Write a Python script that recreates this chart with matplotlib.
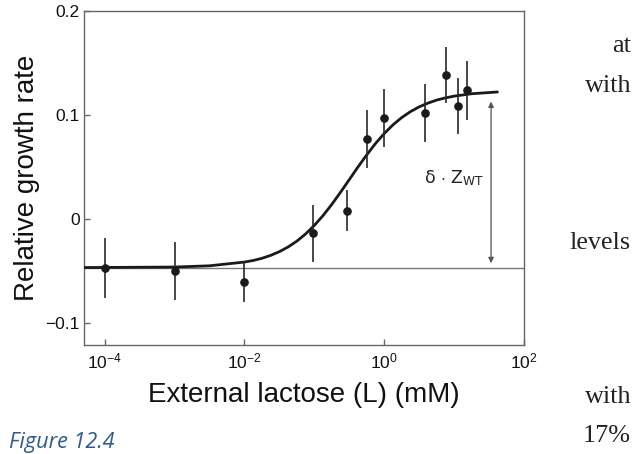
import numpy as np
import matplotlib
matplotlib.use("Agg")
import matplotlib.pyplot as plt
from matplotlib.ticker import FixedLocator, FixedFormatter, NullLocator

# ---- data ----
lactose_mM = [1e-4, 1e-3, 1e-2, 0.095, 0.29, 0.565, 0.98, 3.8, 7.6, 11.4, 15.2]
growth = [-0.047, -0.0497, -0.060, -0.0135, 0.0083, 0.0769, 0.0971, 0.1019, 0.1388, 0.109, 0.1237]
growth_err = [0.0285, 0.0277, 0.020, 0.0273, 0.020, 0.028, 0.0277, 0.028, 0.027, 0.027, 0.028]

curve_log10L = [-4.3, -3, -2.5, -2, -1.875, -1.75, -1.625, -1.5, -1.375, -1.25, -1.125,
                -1, -0.875, -0.75, -0.625, -0.5, -0.375, -0.25, -0.125, 0, 0.125, 0.25,
                0.375, 0.5, 0.625, 0.75, 0.875, 1, 1.25, 1.62]
curve_growth = [-0.0465, -0.0460, -0.0448, -0.0412, -0.0397, -0.0376, -0.0348, -0.0312,
                -0.0267, -0.0211, -0.0142, -0.0060, 0.0035, 0.0142, 0.0259, 0.0380,
                0.0502, 0.0618, 0.0727, 0.0823, 0.0906, 0.0976, 0.1033, 0.1079, 0.1115,
                0.1144, 0.1165, 0.1182, 0.1205, 0.1222]

baseline_growth = -0.0465
arrow_L = 33.8
arrow_top = 0.113
arrow_bottom = -0.0423

yticks = [-0.1, 0, 0.1, 0.2]
ytick_labels = ["\u22120.1", "0", "0.1", "0.2"]
xticks = [1e-4, 1e-2, 1e0, 1e2]

plt.rcParams['font.family'] = ['Liberation Sans', 'DejaVu Sans']
plt.rcParams['mathtext.fontset'] = 'custom'
plt.rcParams['mathtext.rm'] = 'Liberation Sans'
plt.rcParams['mathtext.it'] = 'Liberation Sans:italic'
plt.rcParams['mathtext.bf'] = 'Liberation Sans:bold'

fig = plt.figure(figsize=(6.38, 4.54), dpi=100)
ax = fig.add_axes([84/638, 1 - 345/454, 440/638, 334/454])

spine_col = '#666666'
ax.axhline(baseline_growth, color='#777777', lw=1.0, zorder=1)
ax.plot(10 ** np.array(curve_log10L), curve_growth, color='#1a1a1a', lw=2.0, zorder=3,
        solid_capstyle='round')
ax.errorbar(lactose_mM, growth, yerr=growth_err, fmt='o', color='#1a1a1a',
            ecolor='#2a2a2a', elinewidth=1.2, capsize=0, markersize=5.2, zorder=4)

ax.annotate('', xy=(arrow_L, arrow_top), xytext=(arrow_L, arrow_bottom),
            arrowprops=dict(arrowstyle='<|-|>', color='#555555', lw=0.9,
                            mutation_scale=8, shrinkA=0, shrinkB=0))
ax.text(arrow_L * 0.8, 0.034, r'$\mathregular{\delta}$ $\cdot$ Z$_{\mathregular{WT}}$',
        ha='right', va='baseline', fontsize=12.5, color='#222222',
        family=['DejaVu Sans'])

ax.set_xscale('log')
ax.set_xlim(10 ** -4.296, 100)
ax.set_ylim(-0.1209, 0.2)
ax.xaxis.set_major_locator(FixedLocator(xticks))
ax.xaxis.set_minor_locator(NullLocator())
ax.yaxis.set_major_locator(FixedLocator(yticks))
ax.yaxis.set_major_formatter(FixedFormatter(ytick_labels))

for s in ax.spines.values():
    s.set_color(spine_col)
    s.set_linewidth(1.0)
ax.tick_params(direction='in', length=4.5, width=1.0, color=spine_col,
               labelsize=12.5, pad=3, labelcolor='#111111')
ax.tick_params(axis='x', pad=5)

ax.set_xlabel('External lactose (L) (mM)', fontsize=20, labelpad=7, color='#111111')
ax.set_ylabel('Relative growth rate', fontsize=20, labelpad=4, color='#111111')

# surrounding page text fragments
serif = ['Liberation Serif', 'DejaVu Serif']
for txt, yb in [('at', 51.7), ('with', 91.7), ('levels', 249.3), ('with', 403.3), ('17%', 441.7)]:
    fig.text(631/638, 1 - yb/454, txt, ha='right', va='baseline', fontsize=18.8,
             family=serif, color='#222222')
fig.text(9/638, 1 - 448.3/454, 'Figure 12.4', ha='left', va='baseline', fontsize=15.6,
         family=['Open Sans', 'DejaVu Sans'], style='italic', color='#2E5A8E')

fig.savefig('out.png', dpi=100)
